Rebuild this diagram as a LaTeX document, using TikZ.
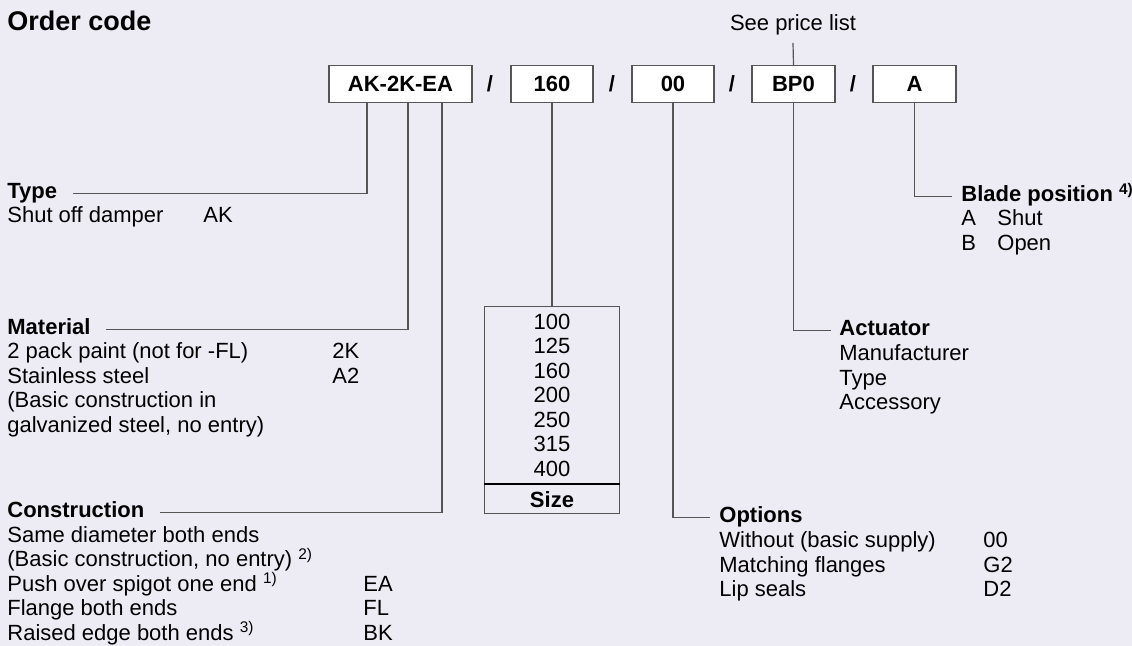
\documentclass[tikz,border=0pt]{standalone}
\usepackage{fontspec}
\setmainfont{Liberation Sans}
\usepackage{xcolor}
\definecolor{fundo}{RGB}{237,236,245}
\definecolor{traco}{RGB}{85,85,85}
\usetikzlibrary{positioning}
\newcommand{\bodyfont}{\fontsize{11}{12.25}\selectfont}
\newcommand{\fnote}[1]{\smash{\textsuperscript{#1}}}

\begin{document}
\begin{tikzpicture}[
    x=0.5pt, y=-0.5pt,
    txt/.style={inner sep=0pt, font=\bodyfont},
    head/.style={inner sep=0pt, anchor=base west, font=\bodyfont\bfseries},
    body/.style={inner sep=0pt, anchor=base west, font=\bodyfont},
    codebox/.style={draw=traco, line width=0.6pt, fill=white, inner sep=0pt,
                    minimum height=18.5pt, font=\bodyfont\bfseries},
    slash/.style={inner sep=0pt, font=\bodyfont\bfseries},
    link/.style={draw=traco, line width=0.6pt}
  ]
  \useasboundingbox[fill=fundo] (0,0) rectangle (1132,646);

  % Title
  \node[inner sep=0pt, anchor=base west, font=\fontsize{13.5}{16}\selectfont\bfseries]
    (title) at (7,31) {Order code};

  % Code boxes
  \node[codebox, minimum width=71.5pt] (bak)  at (400.5,84) {AK-2K-EA};
  \node[codebox, minimum width=41pt]   (b160) at (552,84)   {160};
  \node[codebox, minimum width=41pt]   (b00)  at (673,84)   {00};
  \node[codebox, minimum width=41.5pt] (bbp)  at (793.5,84) {BP0};
  \node[codebox, minimum width=41.5pt] (ba)   at (914.5,84) {A};
  \foreach \x/\n in {490/s1,612/s2,732/s3,853/s4} {
    \node[slash] (\n) at (\x,84) {/};
  }

  % See price list
  \node[txt, anchor=base] (price) at (793,31) {See price list};
  \draw[link] ([yshift=-3.5pt]price.south) -- (bbp.north);

  % Type
  \node[head] (type) at (7,198.5) {Type};
  \node[body] (typebody) at (7,223)
    {\begin{tabular}[t]{@{}p{98pt}@{}l@{}}Shut off damper & AK\end{tabular}};
  \draw[link] ([xshift=-16.75pt]bak.south) |- ([xshift=7.5pt]type.mid east);

  % Material
  \node[head] (mat) at (7,334.5) {Material};
  \node[body] (matbody) at (7,359)
    {\begin{tabular}[t]{@{}p{162.5pt}@{}l@{}}
      2 pack paint (not for -FL) & 2K\\
      Stainless steel & A2\\
      (Basic construction in & \\
      galvanized steel, no entry) &
    \end{tabular}};
  \draw[link] ([xshift=3.75pt]bak.south) |- ([xshift=7.5pt]mat.mid east);

  % Construction
  \node[head] (cons) at (7,518) {Construction};
  \node[body] (consbody) at (7,542.5)
    {\begin{tabular}[t]{@{}p{178pt}@{}l@{}}
      Same diameter both ends & \\
      (Basic construction, no entry) \fnote{2)} & \\
      Push over spigot one end \fnote{1)} & EA\\
      Flange both ends & FL\\
      Raised edge both ends \fnote{3)} & BK
    \end{tabular}};
  \draw[link] ([xshift=20.75pt]bak.south) |- ([xshift=7.5pt]cons.mid east);

  % Size
  \node[txt, draw=traco, line width=0.6pt, minimum width=67.5pt, minimum height=88.5pt,
        align=center, anchor=north] (sizes) at (552,306)
    {100\\125\\160\\200\\250\\315\\400};
  \node[txt, draw=traco, line width=0.6pt, minimum width=67.5pt, minimum height=14.5pt,
        anchor=north, font=\bodyfont\bfseries] (sizelbl) at (sizes.south) {Size};
  \draw[line width=1.3pt] (sizes.south west) -- (sizes.south east);
  \draw[link] (b160.south) -- (sizes.north);

  % Options
  \node[head] (opt) at (719,523) {Options};
  \node[body] (optbody) at (719,548)
    {\begin{tabular}[t]{@{}p{132pt}@{}l@{}}
      Without (basic supply) & 00\\
      Matching flanges & G2\\
      Lip seals & D2
    \end{tabular}};
  \draw[link] (b00.south) |- ([xshift=-4.5pt]opt.mid west);

  % Actuator
  \node[head] (act) at (839,336) {Actuator};
  \node[body] (actbody) at (839,361)
    {\begin{tabular}[t]{@{}l@{}}Manufacturer\\Type\\Accessory\end{tabular}};
  \draw[link] (bbp.south) |- ([xshift=-4pt]act.mid west);

  % Blade position
  \node[head] (blade) at (961,202) {Blade position \fnote{4)}};
  \node[body] (bladebody) at (961,226)
    {\begin{tabular}[t]{@{}p{18pt}@{}l@{}}A & Shut\\B & Open\end{tabular}};
  \draw[link] (ba.south) |- ([xshift=-4.5pt]blade.mid west);
\end{tikzpicture}
\end{document}
